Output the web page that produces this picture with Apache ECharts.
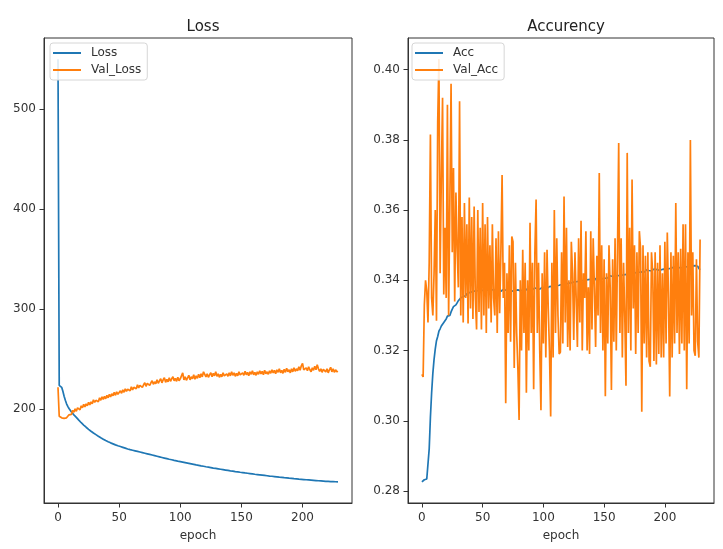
<!DOCTYPE html>
<html>
<head>
<meta charset="utf-8">
<script src="https://cdn.jsdelivr.net/npm/echarts@6/dist/echarts.min.js"></script>
<style>
  html, body { margin: 0; padding: 0; background: #ffffff; }
  #chart { width: 723px; height: 549px; }
</style>
</head>
<body>
<div id="chart"></div>
<script>
// Training history: one value per epoch (epochs 0..229)
const loss = [
  550, 224, 223, 222, 218, 213, 209, 205.5, 203, 200.8,
  199, 197.4, 195.9, 194.5, 193.2, 192, 190.6, 189.2, 187.9, 186.6,
  185.4, 184.3, 183.2, 182.1, 181, 180, 179, 178.1, 177.2, 176.3,
  175.5, 174.7, 173.9, 173.1, 172.3, 171.6, 170.9, 170.2, 169.5, 168.8,
  168.2, 167.6, 167, 166.5, 166, 165.5, 165, 164.5, 164, 163.6,
  163.2, 162.8, 162.4, 162, 161.6, 161.2, 160.8, 160.4, 160, 159.7,
  159.4, 159.1, 158.8, 158.5, 158.2, 157.9, 157.6, 157.3, 157, 156.7,
  156.4, 156.1, 155.8, 155.5, 155.2, 154.9, 154.6, 154.3, 154, 153.7,
  153.4, 153.1, 152.8, 152.5, 152.2, 151.9, 151.6, 151.3, 151, 150.7,
  150.4, 150.1, 149.8, 149.6, 149.3, 149, 148.7, 148.5, 148.2, 147.9,
  147.6, 147.4, 147.1, 146.9, 146.6, 146.4, 146.1, 145.9, 145.6, 145.4,
  145.1, 144.9, 144.7, 144.4, 144.2, 144, 143.7, 143.5, 143.3, 143.1,
  142.8, 142.6, 142.4, 142.2, 142, 141.8, 141.5, 141.3, 141.1, 140.9,
  140.7, 140.5, 140.3, 140.1, 139.9, 139.7, 139.5, 139.3, 139.1, 138.9,
  138.7, 138.5, 138.4, 138.2, 138, 137.8, 137.6, 137.5, 137.3, 137.1,
  136.9, 136.8, 136.6, 136.4, 136.3, 136.1, 135.9, 135.8, 135.6, 135.5,
  135.3, 135.1, 135, 134.8, 134.7, 134.5, 134.4, 134.2, 134.1, 133.9,
  133.8, 133.6, 133.5, 133.3, 133.2, 133.1, 132.9, 132.8, 132.6, 132.5,
  132.4, 132.2, 132.1, 132, 131.8, 131.7, 131.6, 131.5, 131.3, 131.2,
  131.1, 131, 130.8, 130.7, 130.6, 130.5, 130.4, 130.2, 130.1, 130,
  129.9, 129.8, 129.7, 129.6, 129.5, 129.4, 129.3, 129.2, 129.1, 129,
  128.9, 128.8, 128.7, 128.6, 128.5, 128.4, 128.3, 128.2, 128.1, 128,
  127.95, 127.9, 127.85, 127.8, 127.75, 127.7, 127.65, 127.6, 127.55, 127.5
];

const valLoss = [
  222, 193, 192, 191.5, 192.5, 191, 192, 191.5, 193, 194.5,
  196, 195, 199, 197, 200.5, 198, 201.5, 203, 199.5, 203.5,
  201.5, 205, 202.5, 205.5, 203.5, 207, 204.5, 207.5, 205.5, 209.5,
  207, 209, 210.5, 207.5, 211.5, 209, 212.5, 210, 213, 210.5,
  214, 211.5, 215, 212.5, 215.5, 213.5, 217, 214, 217.5, 215,
  216.5, 218.5, 216, 219.5, 217, 220.5, 218, 220, 221.5, 218.5,
  222.5, 219.5, 222, 223.5, 220.5, 224.5, 221.5, 224, 225.5, 222,
  224.5, 226.5, 223, 226, 227.5, 224, 226.5, 228.5, 225, 227.5,
  225.5, 229.5, 226, 228.5, 230.5, 226.5, 229.5, 231.5, 227, 230,
  227.5, 231.5, 228, 230.5, 232.5, 228.5, 231, 228, 232, 228.5,
  230.5, 233.5, 236.5, 229.5, 232.5, 229, 231.5, 234, 229.5, 232.5,
  230.5, 234.5, 230, 233.5, 231, 235, 231.5, 235.5, 232.5, 237.5,
  239, 232.5, 235.5, 232, 234.5, 236.5, 232.5, 236, 233.5, 237.5,
  233, 235.5, 232, 235, 232.5, 236.5, 233.5, 232, 235.5, 233,
  236.5, 233.5, 237.5, 234, 236.5, 233, 236, 233.5, 237.5, 234.5,
  233, 236.5, 234, 238, 234.5, 237, 233.5, 237.5, 235, 238.5,
  234.5, 237, 234, 237.5, 235, 238.5, 235.5, 238, 234.5, 239,
  235.5, 237.5, 235, 238.5, 236, 239.5, 236.5, 239, 235.5, 239.5,
  237, 240.5, 236.5, 239, 236, 240, 237, 241, 237.5, 239.5,
  236.5, 240.5, 237.5, 241.5, 238, 240.5, 238.5, 242.5, 239, 243.5,
  246, 239.5, 238, 241.5, 238.5, 242.5, 239.5, 237.5, 241.5, 239,
  243, 239.5, 244.5, 240.5, 238, 240.5, 237, 240, 241.5, 237.5,
  240.5, 236.5, 239.5, 242, 237.5, 240.5, 237, 239.5, 237.5, 238
];

const acc = [
  0.2826, 0.2830, 0.2832, 0.2833, 0.2834, 0.2838, 0.2920, 0.3010, 0.3080, 0.3135,
  0.3175, 0.3205, 0.3228, 0.3240, 0.3255, 0.3262, 0.3270, 0.3268, 0.3280, 0.3285,
  0.3290, 0.3298, 0.3302, 0.3300, 0.3310, 0.3318, 0.3325, 0.3322, 0.3330, 0.3336,
  0.3342, 0.3345, 0.3350, 0.3348, 0.3354, 0.3358, 0.3356, 0.3362, 0.3360, 0.3365,
  0.3363, 0.3367, 0.3365, 0.3369, 0.3366, 0.3370, 0.3368, 0.3371, 0.3367, 0.3372,
  0.3369, 0.3371, 0.3368, 0.3372, 0.3370, 0.3373, 0.3369, 0.3372, 0.3370, 0.3374,
  0.3371, 0.3368, 0.3372, 0.3370, 0.3373, 0.3369, 0.3371, 0.3374, 0.3370, 0.3372,
  0.3369, 0.3373, 0.3371, 0.3368, 0.3372, 0.3370, 0.3374, 0.3371, 0.3369, 0.3373,
  0.3372, 0.3370, 0.3374, 0.3372, 0.3375, 0.3371, 0.3373, 0.3376, 0.3372, 0.3374,
  0.3377, 0.3373, 0.3375, 0.3378, 0.3374, 0.3376, 0.3379, 0.3375, 0.3377, 0.3380,
  0.3376, 0.3378, 0.3381, 0.3377, 0.3380, 0.3382, 0.3379, 0.3383, 0.3380, 0.3384,
  0.3382, 0.3385, 0.3383, 0.3386, 0.3384, 0.3388, 0.3385, 0.3389, 0.3387, 0.3390,
  0.3388, 0.3392, 0.3389, 0.3393, 0.3391, 0.3395, 0.3392, 0.3396, 0.3394, 0.3397,
  0.3395, 0.3398, 0.3396, 0.3400, 0.3397, 0.3401, 0.3399, 0.3402, 0.3400, 0.3403,
  0.3401, 0.3404, 0.3402, 0.3405, 0.3398, 0.3404, 0.3406, 0.3403, 0.3407, 0.3405,
  0.3408, 0.3406, 0.3409, 0.3407, 0.3410, 0.3413, 0.3408, 0.3411, 0.3409, 0.3412,
  0.3410, 0.3413, 0.3411, 0.3414, 0.3409, 0.3415, 0.3412, 0.3416, 0.3413, 0.3417,
  0.3415, 0.3418, 0.3416, 0.3419, 0.3417, 0.3421, 0.3418, 0.3422, 0.3420, 0.3423,
  0.3421, 0.3424, 0.3428, 0.3423, 0.3426, 0.3430, 0.3425, 0.3428, 0.3431, 0.3427,
  0.3430, 0.3432, 0.3428, 0.3431, 0.3434, 0.3429, 0.3433, 0.3430, 0.3435, 0.3432,
  0.3434, 0.3431, 0.3436, 0.3433, 0.3437, 0.3434, 0.3432, 0.3437, 0.3435, 0.3438,
  0.3434, 0.3437, 0.3439, 0.3435, 0.3440, 0.3437, 0.3441, 0.3438, 0.3442, 0.3439,
  0.3443, 0.3440, 0.3444, 0.3441, 0.3445, 0.3442, 0.3446, 0.3440, 0.3434, 0.3430
];

const valAcc = [
  0.3132, 0.3125, 0.3330, 0.3400, 0.3370, 0.3280, 0.3450, 0.3815, 0.3350, 0.3300,
  0.3420, 0.3600, 0.3285, 0.3850, 0.4030, 0.3420, 0.3700, 0.3920, 0.3360, 0.3550,
  0.3350, 0.3900, 0.3300, 0.3620, 0.3960, 0.3480, 0.3720, 0.3340, 0.3650, 0.3490,
  0.3380, 0.3910, 0.3300, 0.3580, 0.3280, 0.3620, 0.3350, 0.3560, 0.3277, 0.3636,
  0.3320, 0.3580, 0.3290, 0.3610, 0.3350, 0.3260, 0.3600, 0.3310, 0.3550, 0.3260,
  0.3620, 0.3300, 0.3560, 0.3250, 0.3580, 0.3320, 0.3500, 0.3280, 0.3560, 0.3350,
  0.3300, 0.3520, 0.3250, 0.3540, 0.3306, 0.3480, 0.3700, 0.3350, 0.3450, 0.3050,
  0.3420, 0.3250, 0.3500, 0.3225, 0.3525, 0.3510, 0.3150, 0.3450, 0.3250, 0.3150,
  0.3002, 0.3400, 0.3200, 0.3487, 0.3250, 0.3450, 0.3080, 0.3400, 0.3200, 0.3564,
  0.3250, 0.3450, 0.3090, 0.3480, 0.3630, 0.3250, 0.3450, 0.3200, 0.3030, 0.3420,
  0.3220, 0.3480, 0.3180, 0.3487, 0.3320, 0.3200, 0.3012, 0.3450, 0.3180, 0.3600,
  0.3250, 0.3520, 0.3300, 0.3190, 0.3196, 0.3480, 0.3220, 0.3639, 0.3280, 0.3550,
  0.3210, 0.3400, 0.3200, 0.3510, 0.3420, 0.3230, 0.3480, 0.3350, 0.3210, 0.3520,
  0.3280, 0.3570, 0.3200, 0.3420, 0.3350, 0.3540, 0.3200, 0.3380, 0.3190, 0.3540,
  0.3260, 0.3520, 0.3380, 0.3210, 0.3470, 0.3300, 0.3706, 0.3250, 0.3500, 0.3200,
  0.3460, 0.3070, 0.3420, 0.3220, 0.3500, 0.3380, 0.3088, 0.3460, 0.3225, 0.3520,
  0.3200, 0.3480, 0.3791, 0.3250, 0.3520, 0.3180, 0.3450, 0.3300, 0.3100, 0.3763,
  0.3250, 0.3550, 0.3200, 0.3687, 0.3320, 0.3500, 0.3190, 0.3480, 0.3250, 0.3540,
  0.3490, 0.3026, 0.3500, 0.3220, 0.3470, 0.3180, 0.3480, 0.3170, 0.3154, 0.3480,
  0.3420, 0.3170, 0.3480, 0.3160, 0.3450, 0.3190, 0.3500, 0.3180, 0.3420, 0.3180,
  0.3510, 0.3220, 0.3536, 0.3350, 0.3069, 0.3480, 0.3180, 0.3470, 0.3220, 0.3620,
  0.3250, 0.3480, 0.3190, 0.3490, 0.3220, 0.3560, 0.3200, 0.3560, 0.3090, 0.3480,
  0.3220, 0.3800, 0.3300, 0.3480, 0.3200, 0.3185, 0.3460, 0.3225, 0.3180, 0.3516
];

// Tick positions shown on each axis
const epochTicks = [0, 50, 100, 150, 200];
const lossTicks = [200, 300, 400, 500];
const accTicks = [0.28, 0.30, 0.32, 0.34, 0.36, 0.38, 0.40];

const BLUE = '#1f77b4';
const ORANGE = '#ff7f0e';
const INK = '#333333';
const FONT = 'DejaVu Sans';

// Pad the data range by 5% on each side
const padMin = (e) => e.min - 0.05 * (e.max - e.min);
const padMax = (e) => e.max + 0.05 * (e.max - e.min);

const toPairs = (arr) => arr.map((v, i) => [i, v]);

function xAxisFor(gridIndex) {
  return {
    type: 'value', gridIndex,
    min: padMin, max: padMax,
    name: 'epoch', nameLocation: 'middle', nameGap: 27,
    nameTextStyle: { fontSize: 12, color: INK, fontFamily: FONT },
    axisLine: { show: true, onZero: false, lineStyle: { color: INK, width: 1 } },
    axisTick: { show: true, length: 4.5, customValues: epochTicks, lineStyle: { color: INK } },
    axisLabel: { fontSize: 12, color: INK, fontFamily: FONT, margin: 9, customValues: epochTicks },
    splitLine: { show: false }
  };
}

function yAxisFor(gridIndex, ticks, fmt) {
  return {
    type: 'value', gridIndex,
    min: padMin, max: padMax,
    axisLine: { show: true, onZero: false, lineStyle: { color: INK, width: 1 } },
    axisTick: { show: true, length: 4.5, customValues: ticks, lineStyle: { color: INK } },
    axisLabel: { fontSize: 12, color: INK, fontFamily: FONT, margin: 8, customValues: ticks, formatter: fmt },
    splitLine: { show: false }
  };
}

function legendFor(left, names) {
  return {
    orient: 'vertical', left, top: 43,
    data: names,
    icon: 'rect',
    itemWidth: 28, itemHeight: 2, itemGap: 5,
    padding: [4, 6, 4, 3],
    backgroundColor: 'rgba(255,255,255,0.85)',
    borderColor: '#d6d6d6', borderWidth: 1, borderRadius: 3,
    textStyle: { fontSize: 12, color: INK, fontFamily: FONT, padding: [0, 0, 0, 5] }
  };
}

function lineSeries(name, values, axisIndex, color) {
  return {
    name, type: 'line',
    xAxisIndex: axisIndex, yAxisIndex: axisIndex,
    data: toPairs(values),
    symbol: 'none', showSymbol: false,
    lineStyle: { color, width: 1.7 },
    itemStyle: { color },
    emphasis: { disabled: true }
  };
}

const chart = echarts.init(document.getElementById('chart'), null, { renderer: 'canvas' });
chart.setOption({
  animation: false,
  backgroundColor: '#ffffff',
  textStyle: { fontFamily: FONT },
  title: [
    { text: 'Loss', left: 198, top: 15, textAlign: 'center',
      textStyle: { fontSize: 15, fontWeight: 'normal', color: '#222', fontFamily: FONT } },
    { text: 'Accurency', left: 561, top: 15, textAlign: 'center',
      textStyle: { fontSize: 15, fontWeight: 'normal', color: '#222', fontFamily: FONT } }
  ],
  grid: [
    { left: 44, top: 38, width: 308, height: 465, show: true, borderColor: INK, borderWidth: 1, backgroundColor: 'transparent' },
    { left: 408, top: 38, width: 306, height: 465, show: true, borderColor: INK, borderWidth: 1, backgroundColor: 'transparent' }
  ],
  legend: [
    legendFor(50, ['Loss', 'Val_Loss']),
    legendFor(412, ['Acc', 'Val_Acc'])
  ],
  xAxis: [xAxisFor(0), xAxisFor(1)],
  yAxis: [
    yAxisFor(0, lossTicks, (v) => String(Math.round(v))),
    yAxisFor(1, accTicks, (v) => v.toFixed(2))
  ],
  series: [
    lineSeries('Loss', loss, 0, BLUE),
    lineSeries('Val_Loss', valLoss, 0, ORANGE),
    lineSeries('Acc', acc, 1, BLUE),
    lineSeries('Val_Acc', valAcc, 1, ORANGE)
  ]
});
</script>
</body>
</html>
